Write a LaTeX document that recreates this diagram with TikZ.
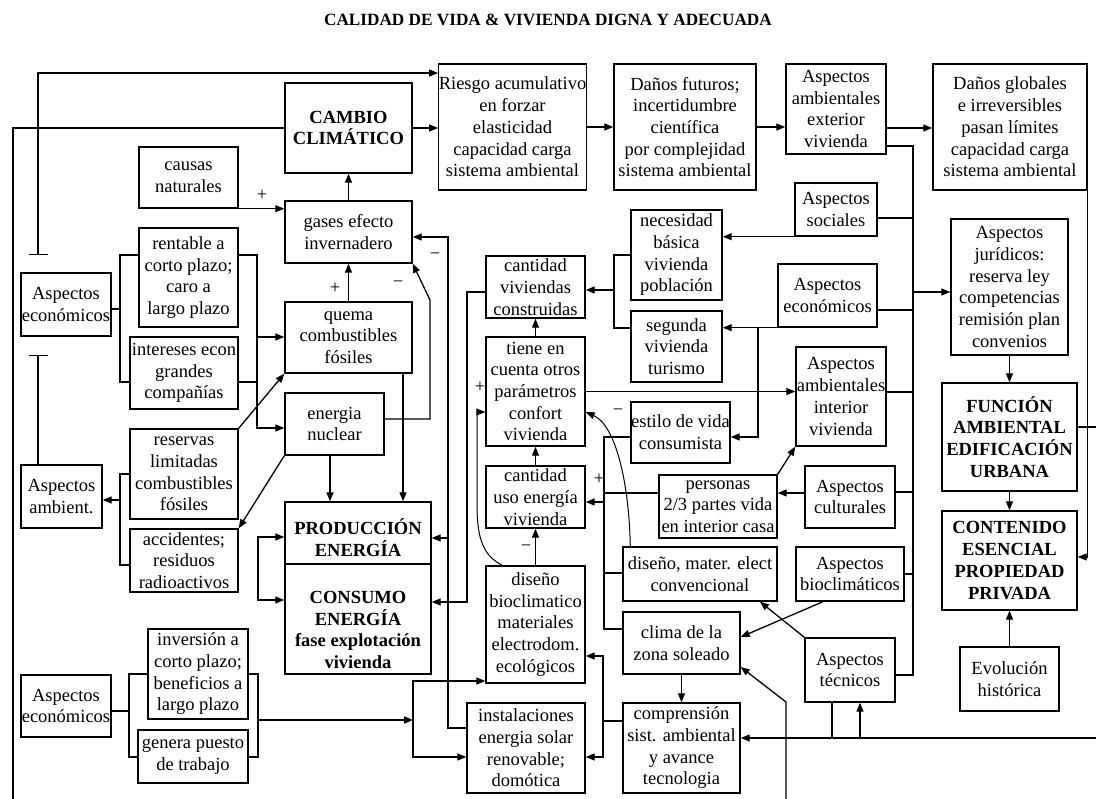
\documentclass[tikz,border=0pt]{standalone}
\usepackage{fontspec}
\setmainfont{Liberation Serif}
\usetikzlibrary{arrows.meta}

% box given by its left, top, right and bottom edges
\newcommand\bx[7][]{%
  \node[box,#1,minimum width={(#5)-(#3)},minimum height={(#6)-(#4)}] (#2)
    at ({((#3)+(#5))/2},{((#4)+(#6))/2}) {#7};}

\begin{document}
\begin{tikzpicture}[x=1pt,y=-1pt,line width=1.3pt,
  box/.style={draw,line width=1.4pt,inner sep=0pt,align=center,
    font=\fontsize{18.5}{21.7}\selectfont},
  bold/.style={font=\fontsize{18.5}{21.7}\selectfont\bfseries},
  txt/.style={inner sep=0pt,align=center,font=\fontsize{18.5}{21.7}\selectfont\bfseries},
  sign/.style={inner sep=0pt,font=\fontsize{18.5}{21.7}\selectfont},
  arr/.style={-{Triangle[length=9pt,width=7pt]}},
  twoarr/.style={{Triangle[length=9pt,width=7pt]}-{Triangle[length=9pt,width=7pt]}},
  curve/.style={line width=1pt}]

\useasboundingbox (0,0) rectangle (1096,799);
\fill[white] (0,0) rectangle (1096,799);

\node[font=\fontsize{17.2}{20}\selectfont\bfseries] (title) at (548,20)
  {CALIDAD DE VIDA \& VIVIENDA DIGNA Y ADECUADA};

% ---- boxes ----
\bx[bold]{cambio}{285}{83}{412}{173}{CAMBIO\\CLIMÁTICO}
\bx{riesgo}{439}{64}{586}{190}{Riesgo acumulativo\\en forzar\\elasticidad\\capacidad carga\\sistema ambiental}
\bx{futuros}{614}{64}{756}{190}{Daños futuros;\\incertidumbre\\científica\\por complejidad\\sistema ambiental}
\bx{exterior}{786}{64}{886}{154}{Aspectos\\ambientales\\exterior\\vivienda}
\bx{globales}{933}{64}{1087}{190}{Daños globales\\e irreversibles\\pasan límites\\capacidad carga\\sistema ambiental}
\bx{causas}{139}{147}{238}{208}{causas\\naturales}
\bx{gases}{285}{201}{412}{263}{gases efecto\\invernadero}
\bx{rentable}{139}{228}{238}{327}{rentable a\\corto plazo;\\caro a\\largo plazo}
\bx{econ1}{21}{273}{111}{336}{Aspectos\\económicos}
\bx{intereses}{130}{337}{238}{409}{intereses econ\\grandes\\compañías}
\bx{quema}{285}{302}{412}{373}{quema\\combustibles\\fósiles}
\bx{nuclear}{285}{393}{384}{455}{energia\\nuclear}
\bx{reservas}{130}{429}{238}{519}{reservas\\limitadas\\combustibles\\fósiles}
\bx{ambient}{21}{465}{102}{528}{Aspectos\\ambient.}
\bx{accidentes}{130}{529}{238}{592}{accidentes;\\residuos\\radioactivos}
\bx{prod}{285}{502}{431}{564}{}
\bx{consumo}{285}{564}{431}{674}{}
\node[txt] (prodtext) at (358,538) {PRODUCCIÓN\\ENERGÍA};
\node[txt] (consumotext) at (358,630) {CONSUMO\\ENERGÍA\\fase explotación\\vivienda};
\bx{inversion}{148}{629}{248}{719}{inversión a\\corto plazo;\\beneficios a\\largo plazo}
\bx{econ3}{21}{675}{111}{737}{Aspectos\\económicos}
\bx{genera}{138}{730}{248}{783}{genera puesto\\de trabajo}
\bx{sociales}{795}{183}{877}{236}{Aspectos\\sociales}
\bx{necesidad}{631}{210}{722}{300}{necesidad\\básica\\vivienda\\población}
\bx{viviendas}{486}{256}{585}{318}{cantidad\\viviendas\\construidas}
\bx{juridicos}{951}{219}{1068}{355}{Aspectos\\jurídicos:\\reserva ley\\competencias\\remisión plan\\convenios}
\bx{econ2}{778}{264}{877}{327}{Aspectos\\económicos}
\bx{segunda}{631}{311}{722}{382}{segunda\\vivienda\\turismo}
\bx{confort}{486}{337}{585}{446}{tiene en\\cuenta otros\\parámetros\\confort\\vivienda}
\bx{interior}{796}{347}{886}{446}{Aspectos\\ambientales\\interior\\vivienda}
\bx{estilo}{631}{402}{730}{463}{estilo de vida\\consumista}
\bx{uso}{486}{466}{585}{528}{cantidad\\uso energía\\vivienda}
\bx{personas}{659}{475}{777}{538}{personas\\2/3 partes vida\\en interior casa}
\bx{culturales}{805}{466}{895}{528}{Aspectos\\culturales}
\bx[bold]{funcion}{942}{383}{1077}{491}{FUNCIÓN\\AMBIENTAL\\EDIFICACIÓN\\URBANA}
\bx[bold]{contenido}{942}{511}{1077}{610}{CONTENIDO\\ESENCIAL\\PROPIEDAD\\PRIVADA}
\bx{evolucion}{960}{647}{1059}{711}{Evolución\\histórica}
\bx{disbio}{486}{566}{585}{683}{diseño\\bioclimatico\\materiales\\electrodom.\\ecológicos}
\bx{disconv}{623}{547}{777}{601}{diseño, mater. elect\\convencional}
\bx{bioclim}{796}{547}{904}{601}{Aspectos\\bioclimáticos}
\bx{clima}{623}{612}{740}{674}{clima de la\\zona soleado}
\bx{tecnicos}{805}{638}{895}{702}{Aspectos\\técnicos}
\bx{instal}{467}{703}{585}{793}{instalaciones\\energia solar\\renovable;\\domótica}
\bx{compren}{623}{703}{740}{793}{comprensión\\sist. ambiental\\y avance\\tecnologia}

% ---- top chain ----
\draw[arr] (cambio.east) -- (cambio.east -| riesgo.west);
\draw[arr] (riesgo.east |- 0,127) -- (futuros.west |- 0,127);
\draw[arr] (futuros.east |- 0,127) -- (exterior.west |- 0,127);
\draw[arr] (exterior.east |- 0,128) -- (globales.west |- 0,128);

% ---- lines running off the sheet and inhibitor bars ----
\coordinate (lbot) at (13,801);
\draw (lbot) |- (cambio.west);
\coordinate (barTop) at (38,255);
\draw[{Bar[width=19pt]}-{Triangle[length=9pt,width=7pt]}] (barTop) |- (riesgo.west |- 0,73);
\coordinate (barMid) at (38,355);
\draw[-{Bar[width=19pt]}] (ambient.north -| 38,0) -- (barMid);

% ---- collecting line of the aspects ----
\draw (exterior.east |- 0,146) -| (913,675) -- (tecnicos.east |- 0,675);
\draw (sociales.east |- 0,218) -- (913,218);
\draw (econ2.east |- 0,310) -- (913,310);
\draw (interior.east |- 0,392) -- (913,392);
\draw (culturales.east |- 0,492) -- (913,492);
\draw (bioclim.east |- 0,574) -- (913,574);
\draw[arr] (913,292) -- (juridicos.west |- 0,292);

% ---- right column ----
\draw[arr] (globales.south east) |- (contenido.east |- 0,557);
\coordinate (rEdgeA) at (1097,427);
\draw (funcion.east |- 0,427) -- (rEdgeA);
\coordinate (rEdgeB) at (1097,738);
\draw[arr] (rEdgeB) -- (compren.east |- 0,738);
\draw (tecnicos.south -| 832,0) -- (832,738);
\draw[arr] (860,738) -- (tecnicos.south -| 860,0);
\coordinate (bEdge) at (786,801);
\draw[arr] (bEdge) -- (786,702) -- (clima.east |- 0,667);
\draw[arr] (juridicos.south) -- (funcion.north);
\draw[arr] (funcion.south) -- (contenido.north);
\draw[arr] (evolucion.north) -- (contenido.south);

% ---- housing demand ----
\draw[arr] (sociales.south west) -- (sociales.south west -| necesidad.east);
\draw (necesidad.west |- 0,255) -| (614,328) -- (segunda.west |- 0,328);
\draw[arr] (614,290) -- (viviendas.east |- 0,290);
\draw[arr] (econ2.south west) -- (econ2.south west -| segunda.east);
\draw[arr] (758,327) |- (estilo.east |- 0,437);
\draw[arr] (confort.north) -- (viviendas.south);
\draw[arr] (confort.east) -- (confort.east -| interior.west);
\draw[arr] (uso.north) -- (confort.south);
\draw[arr] (disbio.north) -- (uso.south);

% ---- factors of energy use ----
\draw (estilo.west |- 0,437) -| (604,629) -- (clima.west |- 0,629);
\draw (personas.west |- 0,493) -- (604,493);
\draw (disconv.west |- 0,573) -- (604,573);
\draw[arr] (604,502) -- (uso.east |- 0,502);
\draw[arr] (personas.north east) -- (interior.south west);
\draw[arr] (culturales.west |- 0,493) -- (personas.east |- 0,493);
\draw[arr] (bioclim.south -| 823,0) -- (clima.east |- 0,637);
\draw[arr] (tecnicos.north west) -- (disconv.south -| 760,0);
\draw[arr] (clima.south) -- (compren.north);
\draw (compren.west |- 0,721) -- (603,721);
\draw[arr] (603,721) |- (disbio.east |- 0,656);
\draw[arr] (603,721) |- (instal.east |- 0,757);

% ---- curved influences on comfort ----
\draw[arr,curve] ([xshift=17pt]disbio.north west) .. controls (484,556) and (477,540) ..
  (477,505) -- (477,412) -- (confort.west |- 0,412);
\draw[arr,curve] ([xshift=8pt]disconv.north west) .. controls (629,480) and (615,425) ..
  (confort.east |- 0,412);

% ---- energy production and consumption ----
\draw[arr] (instal.west |- 0,728) -| (448,237) -- (gases.east |- 0,237);
\draw[arr] (448,538) -- (prod.east |- 0,538);
\draw[arr] (viviendas.west |- 0,292) -| (467,602) -- (consumo.east |- 0,602);
\draw[twoarr] (prod.west |- 0,537) -| (258,600) -- (consumo.west |- 0,600);

% ---- fossil and nuclear energy ----
\draw (econ1.east |- 0,309) -- (120,309);
\draw (rentable.west |- 0,255) -| (120,382) -- (intereses.west |- 0,382);
\draw[arr] (rentable.east |- 0,255) -| (257,428) -- (nuclear.west |- 0,428);
\draw (intereses.east |- 0,382) -- (257,382);
\draw[arr] (257,337) -- (quema.west |- 0,337);
\draw (reservas.west |- 0,474) -| (120,565) -- (accidentes.west |- 0,565);
\draw[arr] (120,500) -- (ambient.east |- 0,500);
\draw[arr] (reservas.north east) -- (quema.south west);
\draw[arr] (nuclear.south west) -- (accidentes.north east);
\draw[arr] (nuclear.south -| 330,0) -- (prod.north -| 330,0);
\draw[arr] (quema.south -| 403,0) -- (prod.north -| 403,0);
\draw[arr] (nuclear.east |- 0,419) -| (430,300) -- (gases.south east);
\draw[arr] (quema.north) -- (gases.south);
\draw[arr] (causas.south east) -- (gases.west |- causas.south east);
\draw[arr] (gases.north) -- (cambio.south);

% ---- investment ----
\draw (econ3.east |- 0,711) -- (129,711);
\draw (inversion.west) -| (129,757) -- (genera.west |- 0,757);
\draw (inversion.east) -| (258,757) -- (genera.east |- 0,757);
\draw[arr] (258,720) -- (413,720);
\draw[arr] (413,720) |- (disbio.west |- 0,681);
\draw[arr] (413,720) |- (instal.west |- 0,757);

% ---- signs ----
\node[sign] (p1) at (262,195) {+};
\node[sign] (p2) at (335,288) {+};
\node[sign] (m1) at (398,284) {−};
\node[sign] (m2) at (435,256) {−};
\node[sign] (p3) at (480,387) {+};
\node[sign] (m3) at (618,412) {−};
\node[sign] (p4) at (599,479) {+};
\node[sign] (m4) at (526,548) {−};
\end{tikzpicture}
\end{document}
